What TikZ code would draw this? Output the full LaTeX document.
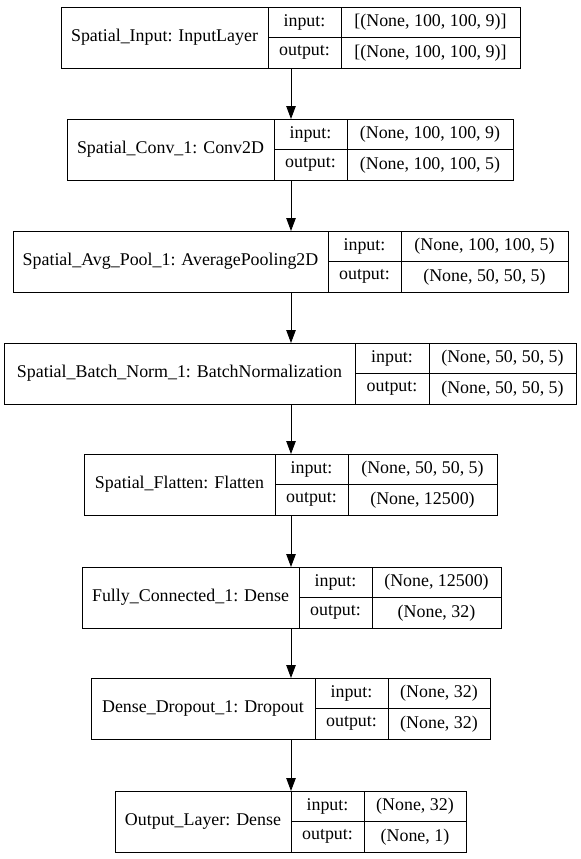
\documentclass[tikz,border=0pt]{standalone}
\usepackage{fontspec}
\setmainfont{Liberation Serif}
\usetikzlibrary{arrows.meta}

\begin{document}
\begin{tikzpicture}[x=1bp,y=-1bp,line width=0.9bp,
  every node/.style={rectangle,draw,inner sep=0pt,outer sep=0pt,minimum height=30.5bp,font=\fontsize{17.9bp}{20bp}\selectfont},
  layer/.style={minimum height=61bp,anchor=north west},
  flow/.style={-{Triangle[length=13bp,width=9.5bp]}}]
  \useasboundingbox (0,0) rectangle (581,859);
  \coordinate (ax) at (291,0);

  \node[layer,minimum width=207bp] (0) at (61,7) {Spatial\_Input: InputLayer};
  \node[anchor=north west,minimum width=73bp] (0i) at (0.north east) {input:};
  \node[anchor=south west,minimum width=73bp] (0o) at (0.south east) {output:};
  \node[anchor=north west,minimum width=179bp] (0iv) at (0i.north east) {[(None, 100, 100, 9)]};
  \node[anchor=north west,minimum width=179bp] (0ov) at (0o.north east) {[(None, 100, 100, 9)]};

  \node[layer,minimum width=207bp] (1) at (67,119) {Spatial\_Conv\_1: Conv2D};
  \node[anchor=north west,minimum width=73bp] (1i) at (1.north east) {input:};
  \node[anchor=south west,minimum width=73bp] (1o) at (1.south east) {output:};
  \node[anchor=north west,minimum width=166bp] (1iv) at (1i.north east) {(None, 100, 100, 9)};
  \node[anchor=north west,minimum width=166bp] (1ov) at (1o.north east) {(None, 100, 100, 5)};

  \node[layer,minimum width=315bp] (2) at (13,231) {Spatial\_Avg\_Pool\_1: AveragePooling2D};
  \node[anchor=north west,minimum width=73bp] (2i) at (2.north east) {input:};
  \node[anchor=south west,minimum width=73bp] (2o) at (2.south east) {output:};
  \node[anchor=north west,minimum width=167bp] (2iv) at (2i.north east) {(None, 100, 100, 5)};
  \node[anchor=north west,minimum width=167bp] (2ov) at (2o.north east) {(None, 50, 50, 5)};

  \node[layer,minimum width=351bp] (3) at (4,343) {Spatial\_Batch\_Norm\_1: BatchNormalization};
  \node[anchor=north west,minimum width=74bp] (3i) at (3.north east) {input:};
  \node[anchor=south west,minimum width=74bp] (3o) at (3.south east) {output:};
  \node[anchor=north west,minimum width=147bp] (3iv) at (3i.north east) {(None, 50, 50, 5)};
  \node[anchor=north west,minimum width=147bp] (3ov) at (3o.north east) {(None, 50, 50, 5)};

  \node[layer,minimum width=191bp] (4) at (84,454) {Spatial\_Flatten: Flatten};
  \node[anchor=north west,minimum width=73bp] (4i) at (4.north east) {input:};
  \node[anchor=south west,minimum width=73bp] (4o) at (4.south east) {output:};
  \node[anchor=north west,minimum width=149bp] (4iv) at (4i.north east) {(None, 50, 50, 5)};
  \node[anchor=north west,minimum width=149bp] (4ov) at (4o.north east) {(None, 12500)};

  \node[layer,minimum width=217bp] (5) at (82,567) {Fully\_Connected\_1: Dense};
  \node[anchor=north west,minimum width=73bp] (5i) at (5.north east) {input:};
  \node[anchor=south west,minimum width=73bp] (5o) at (5.south east) {output:};
  \node[anchor=north west,minimum width=129bp] (5iv) at (5i.north east) {(None, 12500)};
  \node[anchor=north west,minimum width=129bp] (5ov) at (5o.north east) {(None, 32)};

  \node[layer,minimum width=224bp] (6) at (91,678) {Dense\_Dropout\_1: Dropout};
  \node[anchor=north west,minimum width=73bp] (6i) at (6.north east) {input:};
  \node[anchor=south west,minimum width=73bp] (6o) at (6.south east) {output:};
  \node[anchor=north west,minimum width=102bp] (6iv) at (6i.north east) {(None, 32)};
  \node[anchor=north west,minimum width=102bp] (6ov) at (6o.north east) {(None, 32)};

  \node[layer,minimum width=176bp] (7) at (115,791) {Output\_Layer: Dense};
  \node[anchor=north west,minimum width=73bp] (7i) at (7.north east) {input:};
  \node[anchor=south west,minimum width=73bp] (7o) at (7.south east) {output:};
  \node[anchor=north west,minimum width=102bp] (7iv) at (7i.north east) {(None, 32)};
  \node[anchor=north west,minimum width=102bp] (7ov) at (7o.north east) {(None, 1)};

  \draw[flow] (ax |- 0.south) -- (ax |- 1.north);
  \draw[flow] (ax |- 1.south) -- (ax |- 2.north);
  \draw[flow] (ax |- 2.south) -- (ax |- 3.north);
  \draw[flow] (ax |- 3.south) -- (ax |- 4.north);
  \draw[flow] (ax |- 4.south) -- (ax |- 5.north);
  \draw[flow] (ax |- 5.south) -- (ax |- 6.north);
  \draw[flow] (ax |- 6.south) -- (ax |- 7.north);
\end{tikzpicture}
\end{document}
